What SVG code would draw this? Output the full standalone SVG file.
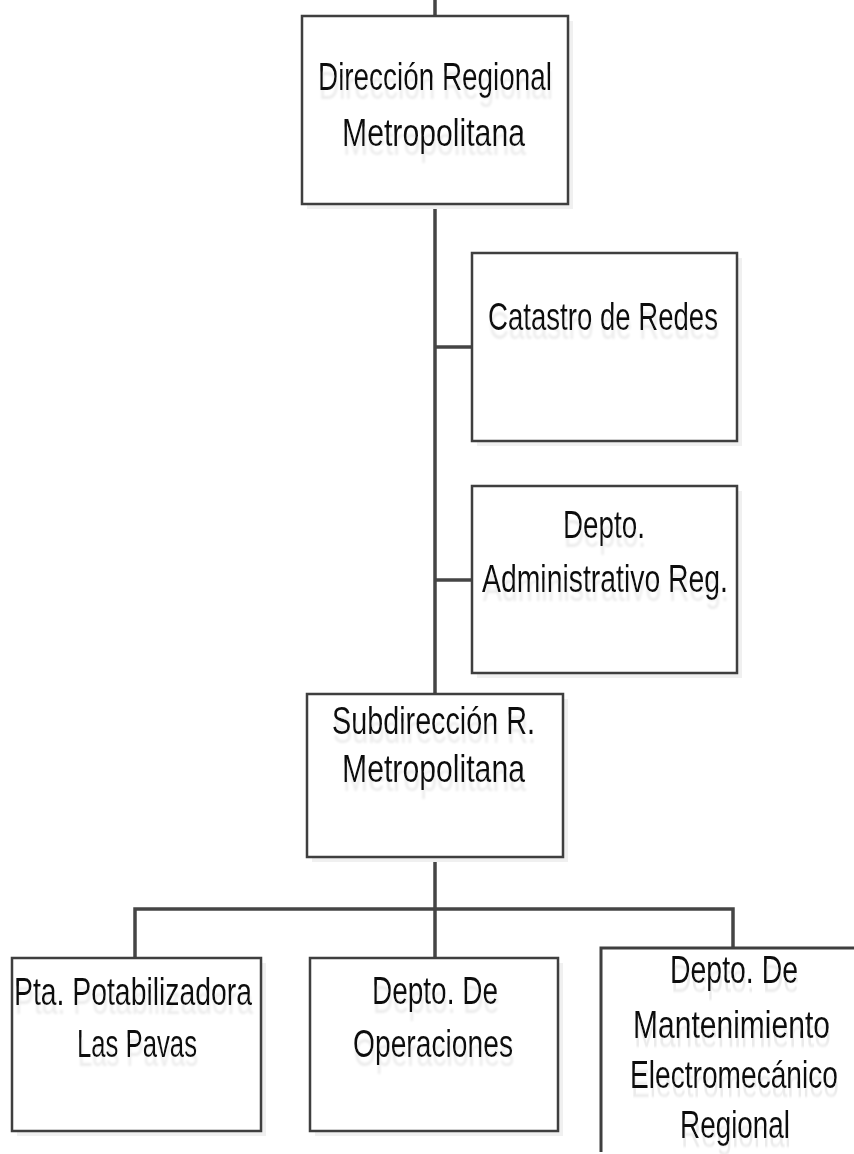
<svg xmlns="http://www.w3.org/2000/svg" width="854" height="1154" viewBox="0 0 854 1154">
<style>
.box{fill:#ffffff;stroke:#3f3f3f;stroke-width:2.5}
.shadow{fill:#f0f0f0;stroke:none}
.conn{stroke:#454545;stroke-width:3.5;fill:none}
.t{font-family:"Liberation Sans",Arial,sans-serif;font-size:38px;fill:#111111;filter:url(#ghost)}
</style>
<defs>
<filter id="ghost" x="-10%" y="-30%" width="120%" height="190%">
<feOffset in="SourceAlpha" dx="1" dy="9" result="o"/>
<feGaussianBlur in="o" stdDeviation="1" result="b"/>
<feFlood flood-color="#ebebeb"/>
<feComposite in2="b" operator="in" result="s"/>
<feMerge><feMergeNode in="s"/><feMergeNode in="SourceGraphic"/></feMerge>
</filter>
</defs>
<rect width="854" height="1154" fill="#ffffff"/>
<g id="connectors">
<line class="conn" x1="435" y1="0" x2="435" y2="16"/>
<line class="conn" x1="435" y1="204" x2="435" y2="694"/>
<line class="conn" x1="435" y1="347" x2="472" y2="347"/>
<line class="conn" x1="435" y1="580" x2="472" y2="580"/>
<line class="conn" x1="435" y1="857" x2="435" y2="958"/>
<polyline class="conn" points="135,958 135,909 733,909 733,948"/>
</g>
<g id="n1">
<rect class="shadow" x="307" y="21" width="266" height="188"/>
<rect class="box" x="302" y="16" width="266" height="188"/>
<text class="t" x="318" y="90" textLength="234" lengthAdjust="spacingAndGlyphs">Dirección Regional</text>
<text class="t" x="342" y="146" textLength="183" lengthAdjust="spacingAndGlyphs">Metropolitana</text>
</g>
<g id="n2">
<rect class="shadow" x="477" y="258" width="265" height="188"/>
<rect class="box" x="472" y="253" width="265" height="188"/>
<text class="t" x="488" y="330" textLength="230" lengthAdjust="spacingAndGlyphs">Catastro de Redes</text>
</g>
<g id="n3">
<rect class="shadow" x="477" y="491" width="265" height="187"/>
<rect class="box" x="472" y="486" width="265" height="187"/>
<text class="t" x="563" y="538" textLength="82" lengthAdjust="spacingAndGlyphs">Depto.</text>
<text class="t" x="482" y="592" textLength="246" lengthAdjust="spacingAndGlyphs">Administrativo Reg.</text>
</g>
<g id="n4">
<rect class="shadow" x="312" y="699" width="256" height="163"/>
<rect class="box" x="307" y="694" width="256" height="163"/>
<text class="t" x="332" y="734" textLength="203" lengthAdjust="spacingAndGlyphs">Subdirección  R.</text>
<text class="t" x="342" y="782" textLength="183" lengthAdjust="spacingAndGlyphs">Metropolitana</text>
</g>
<g id="n5">
<rect class="shadow" x="17" y="963" width="249" height="173"/>
<rect class="box" x="12" y="958" width="249" height="173"/>
<text class="t" x="14" y="1005" textLength="238" lengthAdjust="spacingAndGlyphs">Pta. Potabilizadora</text>
<text class="t" x="77" y="1057" textLength="120" lengthAdjust="spacingAndGlyphs">Las Pavas</text>
</g>
<g id="n6">
<rect class="shadow" x="315" y="963" width="248" height="173"/>
<rect class="box" x="310" y="958" width="248" height="173"/>
<text class="t" x="372" y="1004" textLength="126" lengthAdjust="spacingAndGlyphs">Depto. De</text>
<text class="t" x="353" y="1057" textLength="160" lengthAdjust="spacingAndGlyphs">Operaciones</text>
</g>
<g id="n7">
<rect class="shadow" x="606" y="953" width="248" height="201"/>
<rect x="601" y="948" width="253" height="206" fill="#ffffff"/>
<path d="M854,948 H601 V1152" fill="none" stroke="#3f3f3f" stroke-width="3"/>
<g transform="scale(0.75,1)">
<text class="t" x="893.3" y="983" textLength="170.7" lengthAdjust="spacingAndGlyphs">Depto. De</text>
<text class="t" x="844" y="1038" textLength="262.7" lengthAdjust="spacingAndGlyphs">Mantenimiento</text>
<text class="t" x="840" y="1088" textLength="277.3" lengthAdjust="spacingAndGlyphs">Electromecánico</text>
<text class="t" x="906.7" y="1138" textLength="146.7" lengthAdjust="spacingAndGlyphs">Regional</text>
</g>
</g>
</svg>
